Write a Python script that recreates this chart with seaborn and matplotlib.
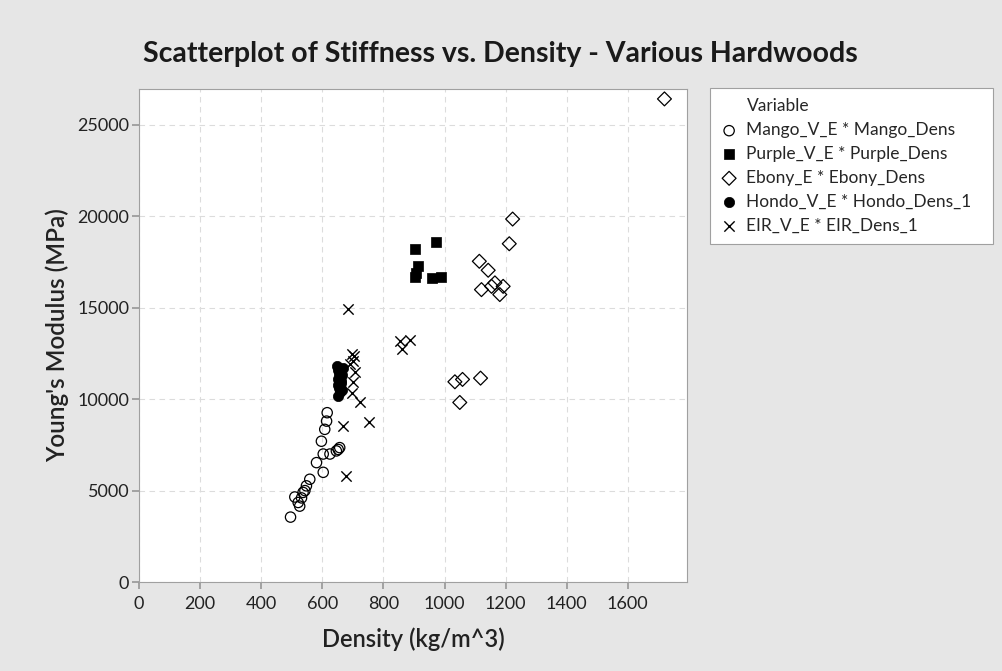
import matplotlib
matplotlib.use("Agg")
import matplotlib.pyplot as plt
import seaborn as sns
from matplotlib.lines import Line2D

# ---- data ----
mango_dens = [496, 510, 521, 526, 532, 537, 543, 548, 559, 581, 597, 603, 603, 608, 614, 616, 625, 646, 657, 652]
mango_e = [3550, 4650, 4350, 4150, 4600, 4900, 5000, 5260, 5620, 6530, 7700, 6000, 7000, 8350, 8800, 9260, 7000, 7170, 7350, 7250]

purple_dens = [903, 971, 914, 903, 958, 988, 908]
purple_e = [18210, 18580, 17270, 16690, 16600, 16690, 16900]

ebony_dens = [1034, 1059, 1118, 1050, 1223, 1212, 1114, 1143, 1165, 1121, 1192, 1181, 1154, 1720]
ebony_e = [10950, 11080, 11150, 9820, 19850, 18500, 17540, 17050, 16360, 15990, 16170, 15720, 16170, 26420]

hondo_dens = [648, 652, 655, 658, 660, 650, 662, 655, 665, 660, 653, 667, 657, 663, 650]
hondo_e = [11800, 11600, 11400, 11200, 11000, 10800, 11500, 10600, 11300, 10900, 11100, 11700, 10400, 10500, 10200]

eir_dens = [685, 696, 703, 690, 707, 701, 696, 723, 668, 753, 677, 854, 887, 860, 700]
eir_e = [14950, 12450, 12350, 11900, 11460, 10920, 10350, 9830, 8530, 8750, 5800, 13170, 13260, 12720, 12100]

xticks = [0, 200, 400, 600, 800, 1000, 1200, 1400, 1600]
yticks = [0, 5000, 10000, 15000, 20000, 25000]

series_labels = ["Mango_V_E * Mango_Dens", "Purple_V_E * Purple_Dens",
                 "Ebony_E * Ebony_Dens", "Hondo_V_E * Hondo_Dens_1",
                 "EIR_V_E * EIR_Dens_1"]
legend_title = "Variable"

sns.set_theme(style="white")
plt.rcParams["font.family"] = ["Lato", "DejaVu Sans"]

fig = plt.figure(figsize=(10.03, 6.71), dpi=100, facecolor="#e6e6e6")
ax = fig.add_axes([0.1386, 0.1326, 0.5464, 0.7347])
ax.set_facecolor("white")

s = 55
sns.scatterplot(x=mango_dens, y=mango_e, ax=ax, marker="o", s=s,
                facecolor="none", edgecolor="black", linewidth=0.9, label=series_labels[0])
sns.scatterplot(x=purple_dens, y=purple_e, ax=ax, marker="s", s=s,
                color="black", edgecolor="black", linewidth=0.5, label=series_labels[1])
sns.scatterplot(x=ebony_dens, y=ebony_e, ax=ax, marker="D", s=50,
                facecolor="none", edgecolor="black", linewidth=0.9, label=series_labels[2])
sns.scatterplot(x=hondo_dens, y=hondo_e, ax=ax, marker="o", s=s,
                color="black", edgecolor="black", linewidth=0.5, label=series_labels[3])
sns.scatterplot(x=eir_dens, y=eir_e, ax=ax, marker="x", s=s,
                color="black", linewidth=1.0, label=series_labels[4])

ax.set_xlim(0, 1794)
ax.set_ylim(0, 26960)
ax.set_xticks(xticks)
ax.set_yticks(yticks)
ax.tick_params(axis="both", labelsize=13, length=5, color="#999999", direction="out",
               left=True, bottom=True, labelcolor="#222222")
ax.tick_params(axis="x", pad=5)
ax.tick_params(axis="y", pad=2)
ax.grid(True, linestyle=(0, (5, 4)), color="#dcdcdc", linewidth=0.8)
for sp in ax.spines.values():
    sp.set_color("#a0a0a0")
    sp.set_linewidth(0.8)

ax.set_xlabel("Density (kg/m^3)", fontsize=17, color="#222222", labelpad=11,
              fontweight="semibold")
ax.set_ylabel("Young's Modulus (MPa)", fontsize=17.5, color="#222222", labelpad=6,
              fontweight="semibold")

fig.text(0.499, 1 - 62 / 671, "Scatterplot of Stiffness vs. Density - Various Hardwoods",
         fontsize=20.5, color="#1a1a1a", ha="center", va="baseline", fontweight="bold")

handles, labels = ax.get_legend_handles_labels()
title_handle = Line2D([], [], linestyle="none", marker=None)
handles = [title_handle] + handles
labels = [legend_title] + labels
leg = ax.legend(handles, labels, loc="upper left",
                bbox_to_anchor=(0.7079, 0.0, 0.282, 1 - 88 / 671),
                bbox_transform=fig.transFigure, mode="expand", borderaxespad=0,
                fontsize=12.5, frameon=True, fancybox=False, framealpha=1,
                facecolor="white", edgecolor="#a0a0a0", borderpad=0.6,
                labelspacing=0.45, handletextpad=0.5, handlelength=1.0)
leg.get_frame().set_linewidth(0.8)

fig.savefig("out.png", dpi=100, facecolor=fig.get_facecolor())
